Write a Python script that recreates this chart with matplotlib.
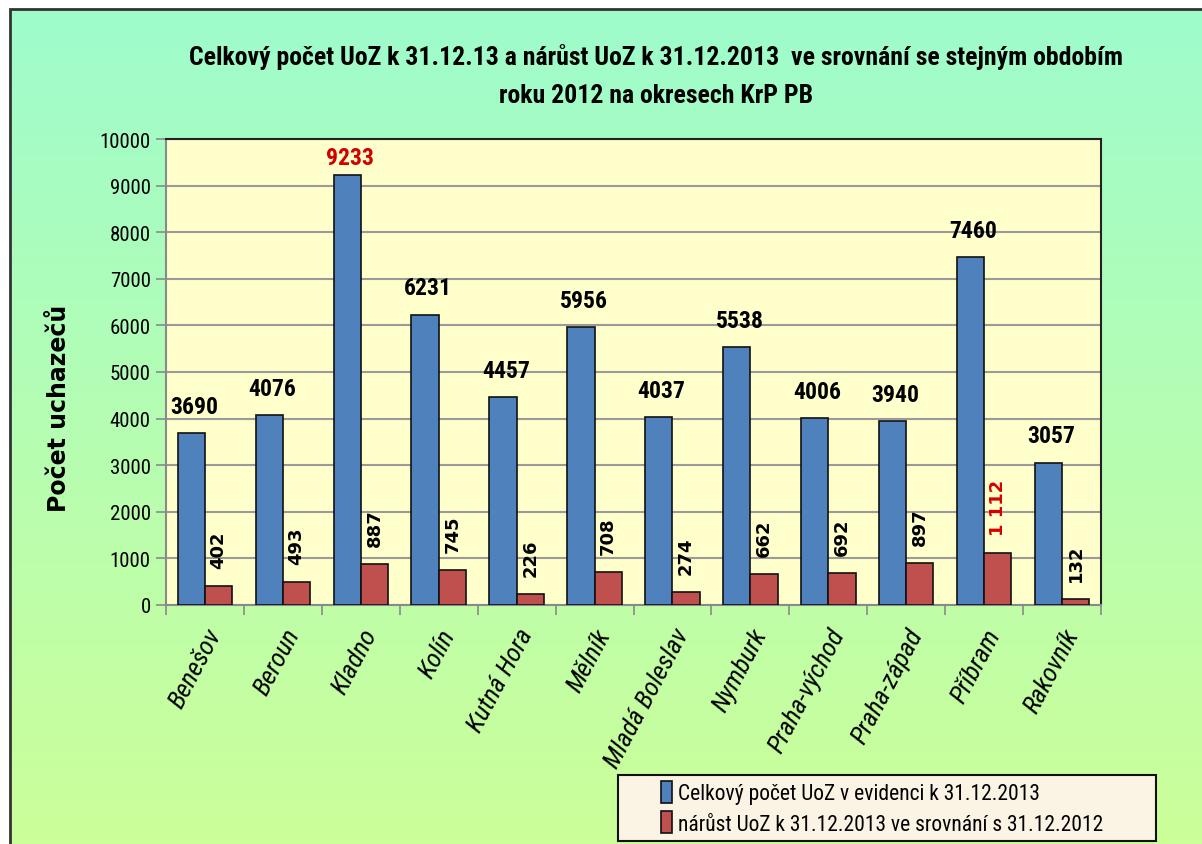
import numpy as np
import matplotlib
matplotlib.use("Agg")
import matplotlib.pyplot as plt
from matplotlib.patches import Rectangle
from matplotlib.legend_handler import HandlerPatch

categories = ["Benešov", "Beroun", "Kladno", "Kolín", "Kutná Hora", "Mělník",
              "Mladá Boleslav", "Nymburk", "Praha-východ", "Praha-západ",
              "Příbram", "Rakovník"]
total_2013 = [3690, 4076, 9233, 6231, 4457, 5956, 4037, 5538, 4006, 3940, 7460, 3057]
increase = [402, 493, 887, 745, 226, 708, 274, 662, 692, 897, 1112, 132]
yticks = [0, 1000, 2000, 3000, 4000, 5000, 6000, 7000, 8000, 9000, 10000]

title = ("Celkový počet UoZ k 31.12.13 a nárůst UoZ k 31.12.2013  ve srovnání se stejným obdobím\n"
         "roku 2012 na okresech KrP PB")
ylabel = "Počet uchazečů"
legend_labels = ["Celkový počet UoZ v evidenci k 31.12.2013",
                 "nárůst UoZ k 31.12.2013 ve srovnání s 31.12.2012"]

NARROW = ["Roboto Condensed", "Liberation Sans Narrow", "Liberation Sans", "DejaVu Sans"]
BLUE = "#4f81bd"
RED = "#c0504d"
HILITE = "#d40000"

W, H = 1202, 845
fig = plt.figure(figsize=(W / 100, H / 100), dpi=100)
fig.patch.set_facecolor("white")

# gradient background
bg = fig.add_axes([10 / W, 0, 1 - 10 / W, 1 - 10 / H], zorder=-10)
top = np.array([158, 252, 204]) / 255
bot = np.array([204, 255, 153]) / 255
t = np.linspace(0, 1, 256)[:, None]
grad = (top[None, :] * (1 - t) + bot[None, :] * t)[:, None, :]
bg.imshow(grad, aspect="auto", extent=[0, 1, 0, 1])
bg.set_axis_off()
fig.add_artist(Rectangle((10 / W, -0.01), 1.1, 1 - 10 / H + 0.01, transform=fig.transFigure,
                         fill=False, edgecolor="#333333", linewidth=2.0, zorder=-5))

ax = fig.add_axes([166 / W, (H - 606) / H, (1101 - 166) / W, (606 - 140) / H])
ax.set_facecolor("#ffffcc")

x = np.arange(len(categories))
bw = 0.35
b1 = ax.bar(x - bw / 2, total_2013, bw, color=BLUE, edgecolor="#111111", linewidth=1.2,
            label=legend_labels[0], zorder=3)
b2 = ax.bar(x + bw / 2, increase, bw, color=RED, edgecolor="#111111", linewidth=1.2,
            label=legend_labels[1], zorder=3)

max_tot = max(total_2013)
max_inc = max(increase)
for xi, v in zip(x, total_2013):
    off = 4 if v == max_tot else 11
    ax.annotate(f"{v}", (xi - bw / 2, v), xytext=(2, off), textcoords="offset points",
                ha="center", va="bottom", fontsize=17, fontweight="bold",
                family=NARROW, color=HILITE if v == max_tot else "black")
for xi, v in zip(x, increase):
    s = f"{v:,}".replace(",", " ")
    ax.annotate(s, (xi + bw / 2, v), xytext=(0, 13), textcoords="offset points",
                ha="center", va="bottom", rotation=90, fontsize=13, fontweight="bold",
                family=["DejaVu Sans"], color=HILITE if v == max_inc else "black")

ax.set_xlim(-0.5, len(categories) - 0.5)
ax.set_ylim(0, 10000)
ax.set_yticks(yticks)
ax.set_yticklabels([str(v) for v in yticks], family=NARROW, fontsize=15)
ax.yaxis.grid(True, color="#9a9a9a", linewidth=1.5, zorder=0)
ax.set_axisbelow(True)

ax.set_xticks(x)
ax.set_xticklabels(categories, rotation=62, ha="right", rotation_mode="anchor",
                   family=NARROW, fontsize=19, style="italic")
ax.tick_params(axis="x", length=0, pad=14)
ax.set_xticks(np.arange(-0.5, len(categories), 1), minor=True)
ax.tick_params(axis="x", which="minor", length=7, color="#8a8a8a", width=1.2)
ax.tick_params(axis="y", length=7, color="#8a8a8a", width=1.2, pad=4)

for side in ["top", "right"]:
    ax.spines[side].set_color("#222222")
    ax.spines[side].set_linewidth(1.5)
for side in ["left", "bottom"]:
    ax.spines[side].set_color("#8a8a8a")
    ax.spines[side].set_linewidth(1.5)

ax.set_ylabel(ylabel, fontsize=17, fontweight="bold", family=["DejaVu Sans"])
ax.yaxis.set_label_coords((71 - 166) / 935, (606 - 408) / 466)

fig.text(656 / W, 1 - 76 / H, title, ha="center", va="center", fontsize=18.5,
         fontweight="bold", family=NARROW, linespacing=1.75)


def make_patch(legend, orig_handle, xdescent, ydescent, width, height, fontsize):
    w = 0.5 * fontsize
    return Rectangle((width - w - xdescent, -ydescent - 1), w, height + 2)


leg = fig.legend(handles=[b1.patches[0], b2.patches[0]], labels=legend_labels,
                 loc="lower left",
                 bbox_to_anchor=(618 / W, (H - 842) / H, (1156 - 618) / W, (842 - 776) / H),
                 mode="expand", prop={"family": NARROW, "size": 15.5},
                 handlelength=2.2, handleheight=1.0, handletextpad=0.3,
                 borderpad=0.3, labelspacing=0.4, borderaxespad=0,
                 fancybox=False, framealpha=1,
                 handler_map={Rectangle: HandlerPatch(patch_func=make_patch)})
leg.get_frame().set_facecolor("#fbf3e4")
leg.get_frame().set_edgecolor("#111111")
leg.get_frame().set_linewidth(1.5)

fig.savefig("out.png", dpi=100)
